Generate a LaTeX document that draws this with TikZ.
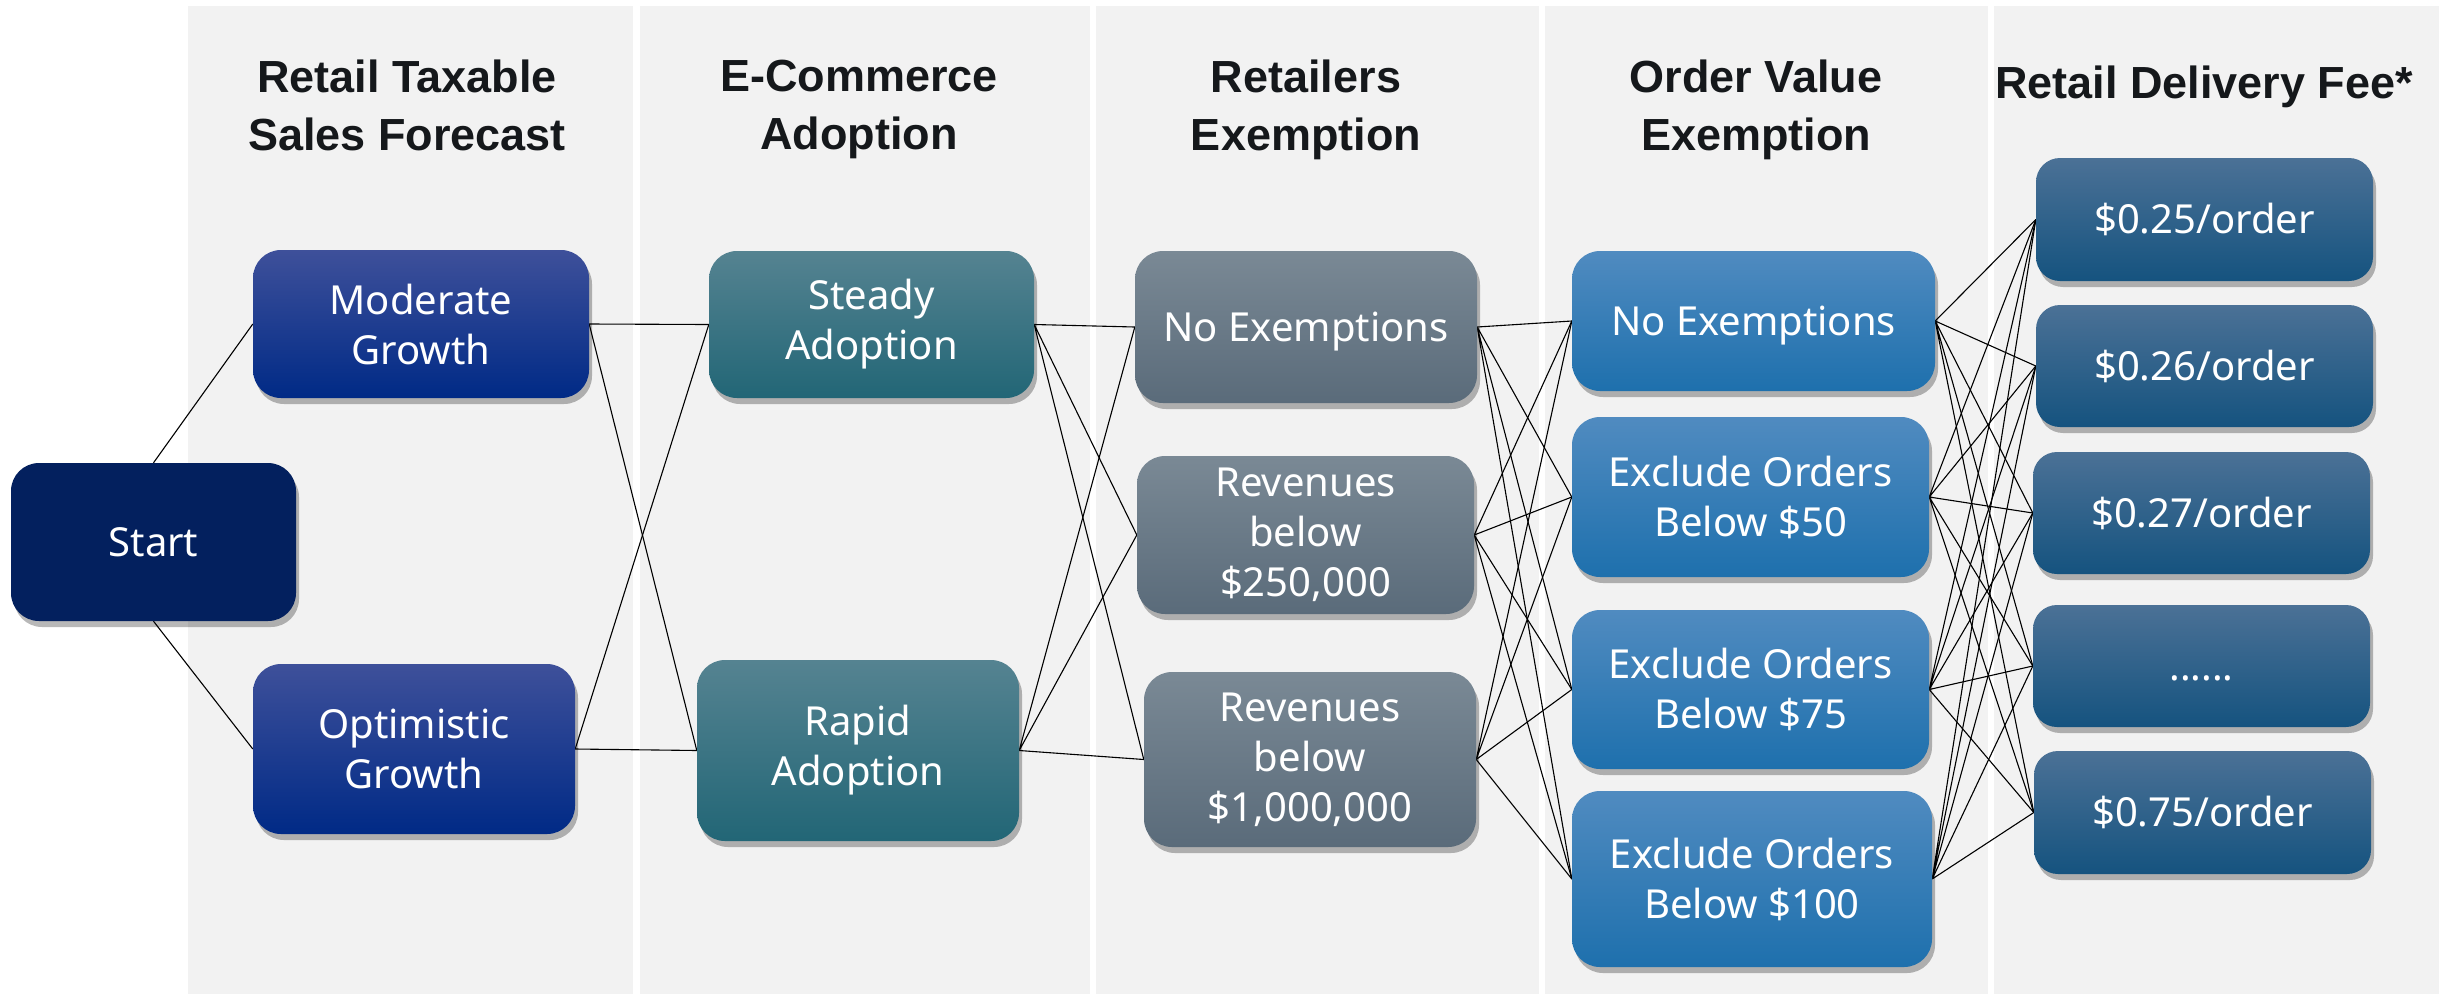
\documentclass[tikz,border=0pt]{standalone}
\usepackage{fontspec}
\setmainfont{Noto Sans}
\newfontfamily\headfont{Liberation Sans}
\usetikzlibrary{shadows}
\definecolor{panel}{HTML}{F2F2F2}
\definecolor{title}{HTML}{15181B}
\definecolor{startc}{HTML}{03205E}
\definecolor{growtop}{HTML}{3E509A}
\definecolor{growmid}{HTML}{0A2F8C}
\definecolor{growbot}{HTML}{002A86}
\definecolor{adopttop}{HTML}{558391}
\definecolor{adoptmid}{HTML}{2C707F}
\definecolor{adoptbot}{HTML}{226676}
\definecolor{rettop}{HTML}{7A8995}
\definecolor{retmid}{HTML}{697987}
\definecolor{retbot}{HTML}{5A6B7A}
\definecolor{ordtop}{HTML}{508BC0}
\definecolor{ordmid}{HTML}{2A7DB9}
\definecolor{ordbot}{HTML}{1E70AD}
\definecolor{feetop}{HTML}{4B7196}
\definecolor{feemid}{HTML}{215D89}
\definecolor{feebot}{HTML}{15537F}
\pgfdeclarelayer{back}
\pgfdeclarelayer{lines}
\pgfsetlayers{back,lines,main}
\tikzset{
  head/.style={text=title, anchor=north, align=center, inner sep=0pt,
    font=\headfont\bfseries\fontsize{45}{58}\selectfont, execute at begin node=\strut},
  box/.style={rounded corners=28pt, align=center, text=white, inner sep=0pt,
    font=\fontsize{40}{50}\selectfont,
    drop shadow={shadow xshift=3pt, shadow yshift=-6pt, opacity=0.28, fill=black}},
  multi/.style={execute at begin node={\rule{0pt}{44pt}}},
  single/.style={execute at begin node={\rule[-11pt]{0pt}{50pt}}},
  wh/.style 2 args={minimum width=#1pt, minimum height=#2pt},
  startbox/.style={box, single, fill=startc},
  growbox/.style={box, multi, top color=growtop, middle color=growmid, bottom color=growbot},
  adoptbox/.style={box, multi, top color=adopttop, middle color=adoptmid, bottom color=adoptbot},
  retbox/.style={box, top color=rettop, middle color=retmid, bottom color=retbot},
  ordbox/.style={box, top color=ordtop, middle color=ordmid, bottom color=ordbot},
  feebox/.style={box, single, rounded corners=24pt, top color=feetop, middle color=feemid, bottom color=feebot},
  link/.style={draw=black, line width=1.1pt}
}

\begin{document}
\begin{tikzpicture}[x=1pt, y=-1pt]
  \useasboundingbox (0,0) rectangle (2445,994);

  % column panels
  \begin{pgfonlayer}{back}
    \fill[white] (0,0) rectangle (2445,994);
    \fill[panel] (188,6) rectangle (633,994);
    \fill[panel] (640,6) rectangle (1090,994);
    \fill[panel] (1096,6) rectangle (1539,994);
    \fill[panel] (1545,6) rectangle (1988,994);
    \fill[panel] (1994,6) rectangle (2439,994);
  \end{pgfonlayer}

  % headings
  \node[head] (hsales) at (407,60) {Retail Taxable\\Sales Forecast};
  \node[head] (hecom) at (859,60) {E-Commerce\\Adoption};
  \node[head] (hret) at (1306,60) {Retailers\\Exemption};
  \node[head] (hord) at (1756,60) {Order Value\\Exemption};
  \node[head] (hfee) at (2204,57.4) {Retail Delivery Fee*};

  % stage boxes
  \node[startbox, wh={285}{158}] (start) at (153.5,542) {Start};

  \node[growbox, wh={336}{148}] (modg) at (421,324) {Moderate\\Growth};
  \node[growbox, wh={322}{170}] (optg) at (414,749) {Optimistic\\Growth};

  \node[adoptbox, wh={325}{147}] (steady) at (871.5,324.5) {Steady\\Adoption};
  \node[adoptbox, wh={322}{181}] (rapid) at (858,750.5) {Rapid\\Adoption};

  \node[retbox, single, wh={342}{152}] (retno) at (1306,327) {No Exemptions};
  \node[retbox, multi, wh={337}{158}] (ret250) at (1305.5,535) {Revenues\\below\\\$250,000};
  \node[retbox, multi, wh={332}{175}] (ret1m) at (1310,759.5) {Revenues\\below\\\$1,000,000};

  \node[ordbox, single, wh={363}{140}] (ordno) at (1753.5,321) {No Exemptions};
  \node[ordbox, multi, wh={357}{160}] (ord50) at (1750.5,497) {Exclude Orders\\Below \$50};
  \node[ordbox, multi, wh={357}{159}] (ord75) at (1750.5,689.5) {Exclude Orders\\Below \$75};
  \node[ordbox, multi, wh={360}{176}] (ord100) at (1752,879) {Exclude Orders\\Below \$100};

  \node[feebox, wh={337}{123}] (fee25) at (2204.5,219.5) {\$0.25/order};
  \node[feebox, wh={337}{122}] (fee26) at (2204.5,366) {\$0.26/order};
  \node[feebox, wh={337}{122}] (fee27) at (2201.5,513) {\$0.27/order};
  \node[feebox, wh={337}{122}] (feedots) at (2201.5,666) {......};
  \node[feebox, wh={337}{123}] (fee75) at (2202.5,812.5) {\$0.75/order};

  % connectors
  \begin{pgfonlayer}{lines}
    \draw[link] (start.north) -- (modg.west) (start.south) -- (optg.west);

    \draw[link] (modg.east) -- (steady.west) (modg.east) -- (rapid.west);
    \draw[link] (optg.east) -- (steady.west) (optg.east) -- (rapid.west);

    \draw[link] (steady.east) -- (retno.west) (steady.east) -- (ret250.west) (steady.east) -- (ret1m.west);
    \draw[link] (rapid.east) -- (retno.west) (rapid.east) -- (ret250.west) (rapid.east) -- (ret1m.west);

    \draw[link] (retno.east) -- (ordno.west) (retno.east) -- (ord50.west)
      (retno.east) -- (ord75.west) (retno.east) -- (ord100.west);
    \draw[link] (ret250.east) -- (ordno.west) (ret250.east) -- (ord50.west)
      (ret250.east) -- (ord75.west) (ret250.east) -- (ord100.west);
    \draw[link] (ret1m.east) -- (ordno.west) (ret1m.east) -- (ord50.west)
      (ret1m.east) -- (ord75.west) (ret1m.east) -- (ord100.west);

    \draw[link] (ordno.east) -- (fee25.west) (ordno.east) -- (fee26.west) (ordno.east) -- (fee27.west)
      (ordno.east) -- (feedots.west) (ordno.east) -- (fee75.west);
    \draw[link] (ord50.east) -- (fee25.west) (ord50.east) -- (fee26.west) (ord50.east) -- (fee27.west)
      (ord50.east) -- (feedots.west) (ord50.east) -- (fee75.west);
    \draw[link] (ord75.east) -- (fee25.west) (ord75.east) -- (fee26.west) (ord75.east) -- (fee27.west)
      (ord75.east) -- (feedots.west) (ord75.east) -- (fee75.west);
    \draw[link] (ord100.east) -- (fee25.west) (ord100.east) -- (fee26.west) (ord100.east) -- (fee27.west)
      (ord100.east) -- (feedots.west) (ord100.east) -- (fee75.west);
  \end{pgfonlayer}
\end{tikzpicture}
\end{document}
